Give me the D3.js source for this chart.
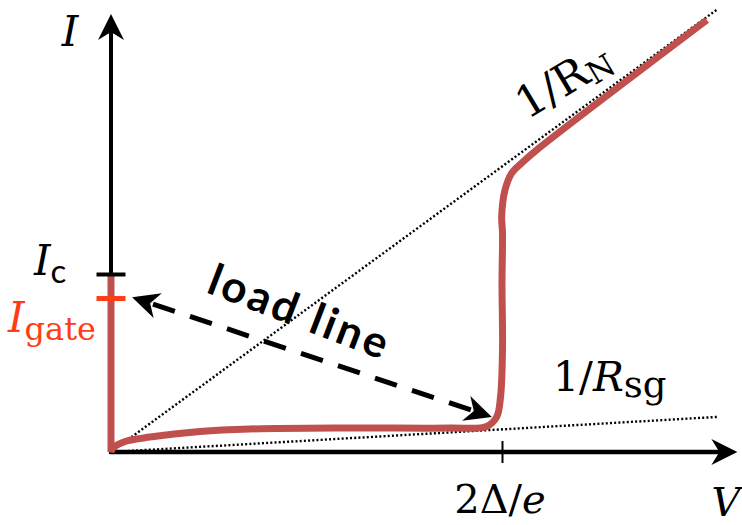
<!DOCTYPE html>
<html>
<head>
<meta charset="utf-8">
<script src="https://cdn.jsdelivr.net/npm/d3@7"></script>
<style>
  html, body { margin: 0; padding: 0; background: #fff; }
  svg { display: block; }
</style>
</head>
<body>
<svg id="chart" width="742" height="525"></svg>
<script>
// Voltage in units of 2Δ/e, current in units of Ic.
const axisMax = { v: 1.602, i: 2.461 };

// Superconducting (zero-voltage) branch up to the critical current.
const scBranchV = [0, 0];
const scBranchI = [1, 0];

// Quasiparticle branch: sub-gap leakage, gap rise, then the normal-state line.
const qpV = [0, 0.005, 0.036, 0.0997, 0.228, 0.355, 0.611, 0.867, 0.9604, 0.9864, 0.9962, 1.0013, 1.0, 1.0013, 0.9992, 1.0077, 1.0248, 1.0504, 1.0887, 1.524];
const qpI = [0, 0.022, 0.059, 0.084, 0.115, 0.129, 0.135, 0.135, 0.143, 0.197, 0.309, 0.573, 0.949, 1.230, 1.322, 1.472, 1.567, 1.624, 1.697, 2.427];

// Reference conductance lines from the origin.
const rnLine = { v: [0, 1.552], i: [0, 2.489] };   // 1/R_N
const rsgLine = { v: [0, 1.550], i: [0, 0.197] };  // 1/R_sg

// Bias levels marked on the current axis.
const iTickValues = [1, 0.865];
const iTickNames = ["Ic", "Igate"];
const vTickValues = [1];
const vTickLabels = ["2Δ/e"];

// Load line between the gate bias and the gap voltage.
const loadLine = { v: [0.054, 0.974], i: [0.87, 0.197] };

const RED = "#c0504d";
const ORANGE = "#ff3c14";

const svg = d3.select("#chart");
const x = d3.scaleLinear().domain([0, 1]).range([111, 502]);
const y = d3.scaleLinear().domain([0, 1]).range([452, 274]);

const defs = svg.append("defs");
function arrowMarker(id, d) {
  defs.append("marker")
    .attr("id", id)
    .attr("markerUnits", "userSpaceOnUse")
    .attr("markerWidth", 60).attr("markerHeight", 60)
    .attr("refX", 0).attr("refY", 0)
    .attr("viewBox", "-30 -30 60 60")
    .attr("orient", "auto-start-reverse")
    .style("overflow", "visible")
    .append("path").attr("d", d).attr("fill", "#000");
}
arrowMarker("axisHead", "M8,0 L-18,-13 L-10,0 L-18,13 Z");
arrowMarker("loadHead", "M16,0 L-11,-13 L-3,0 L-11,13 Z");

// Dotted conductance lines
const refLine = d3.line().x(d => x(d[0])).y(d => y(d[1]));
[rnLine, rsgLine].forEach(l => {
  svg.append("path")
    .attr("d", refLine(l.v.map((v, k) => [v, l.i[k]])))
    .attr("fill", "none")
    .attr("stroke", "#000")
    .attr("stroke-width", 2.4)
    .attr("stroke-dasharray", "2 2.2");
});

// Axes
const xAxis = d3.axisBottom(x).tickValues(vTickValues).tickFormat("").tickSizeOuter(0);
const gx = svg.append("g").attr("transform", `translate(0,${y(0)})`).call(xAxis);
gx.select(".domain").remove();
gx.selectAll(".tick line").attr("y1", -11).attr("y2", 11).attr("stroke", "#000").attr("stroke-width", 2);

const yAxis = d3.axisLeft(y).tickValues(iTickValues).tickFormat("").tickSizeOuter(0);
const gy = svg.append("g").attr("transform", `translate(${x(0)},0)`).call(yAxis);
gy.select(".domain").remove();
gy.selectAll(".tick line")
  .attr("x1", -14.5).attr("x2", 14.5)
  .attr("stroke", (d, k) => k === 0 ? "#000" : ORANGE)
  .attr("stroke-width", (d, k) => k === 0 ? 4 : 5);

// Axis lines with arrowheads
svg.append("line")
  .attr("x1", x(0) - 1).attr("y1", y(0)).attr("x2", x(axisMax.v) - 8).attr("y2", y(0))
  .attr("stroke", "#000").attr("stroke-width", 4.5)
  .attr("marker-end", "url(#axisHead)");
svg.append("line")
  .attr("x1", x(0)).attr("y1", y(0) + 2).attr("x2", x(0)).attr("y2", y(axisMax.i) + 8)
  .attr("stroke", "#000").attr("stroke-width", 4)
  .attr("marker-end", "url(#axisHead)");

// I-V curve
const scPts = scBranchV.map((v, k) => [v, scBranchI[k]]);
const qpPts = qpV.map((v, k) => [v, qpI[k]]);
const straight = d3.line().x(d => x(d[0])).y(d => y(d[1]));
const smooth = d3.line().x(d => x(d[0])).y(d => y(d[1])).curve(d3.curveCatmullRom.alpha(0.5));
svg.append("path")
  .attr("d", straight(scPts) + "L" + smooth(qpPts).slice(1))
  .attr("fill", "none")
  .attr("stroke", RED)
  .attr("stroke-width", 7)
  .attr("stroke-linejoin", "miter");

// Redraw the bias ticks above the curve
gy.raise();

// Load line (dashed, double headed)
const lx1 = x(loadLine.v[0]), ly1 = y(loadLine.i[0]);
const lx2 = x(loadLine.v[1]), ly2 = y(loadLine.i[1]);
const len = Math.hypot(lx2 - lx1, ly2 - ly1);
const ux = (lx2 - lx1) / len, uy = (ly2 - ly1) / len;
svg.append("line")
  .attr("x1", lx1 + ux * 16).attr("y1", ly1 + uy * 16)
  .attr("x2", lx2 - ux * 16).attr("y2", ly2 - uy * 16)
  .attr("stroke", "#000").attr("stroke-width", 5)
  .attr("stroke-dasharray", "23 16")
  .attr("stroke-dashoffset", -6)
  .attr("marker-start", "url(#loadHead)")
  .attr("marker-end", "url(#loadHead)");

// Text
const serif = "'DejaVu Serif', serif";
function label(px, py, anchor, size, color) {
  return svg.append("text")
    .attr("x", px).attr("y", py)
    .attr("text-anchor", anchor)
    .attr("font-family", serif)
    .attr("font-size", size)
    .attr("fill", color || "#000");
}

// Axis names
label(70, 46, "middle", 42).attr("font-style", "italic").text("I");
label(726, 516, "middle", 40).attr("font-style", "italic").text("V");

// Gap voltage label
const gapText = label(x(vTickValues[0]) - 2, 513, "middle", 40);
gapText.append("tspan").text(vTickLabels[0].slice(0, 3));
gapText.append("tspan").attr("font-style", "italic").text(vTickLabels[0].slice(3));

// Ic label
const icText = label(34, y(iTickValues[0]) + 1, "start", 42);
icText.append("tspan").attr("font-style", "italic").text(iTickNames[0][0]);
icText.append("tspan").attr("dy", 8).attr("font-family", "Lato, sans-serif").attr("font-size", 33).text(iTickNames[0].slice(1));

// Igate label
const igText = label(8, 332, "start", 42, ORANGE);
igText.append("tspan").attr("font-style", "italic").text(iTickNames[1][0]);
igText.append("tspan").attr("dy", 8).attr("font-size", 32).text(iTickNames[1].slice(1));

// 1/R_sg
const sgText = label(553, 391, "start", 41);
sgText.append("tspan").text("1/");
sgText.append("tspan").attr("font-style", "italic").text("R");
sgText.append("tspan").attr("dy", 6).attr("font-size", 37).text("sg");

// 1/R_N
const rnText = label(0, 0, "start", 44).attr("transform", "translate(527,120) rotate(-31)");
rnText.append("tspan").text("1/R");
rnText.append("tspan").attr("dy", 5).attr("font-size", 31).text("N");

// load line caption
svg.append("text")
  .attr("transform", "translate(205,292) rotate(21)")
  .attr("font-family", "Lato, sans-serif")
  .attr("font-weight", "bold")
  .attr("font-size", 44)
  .attr("letter-spacing", 3)
  .attr("fill", "#000")
  .text("load line");
</script>
</body>
</html>
